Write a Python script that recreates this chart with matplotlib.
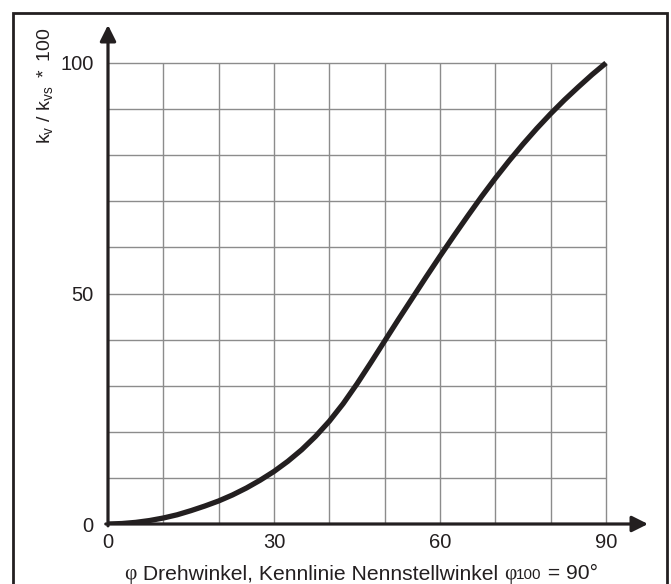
import matplotlib
matplotlib.use('Agg')
import matplotlib.pyplot as plt
from matplotlib.patches import Rectangle
from matplotlib.offsetbox import TextArea, HPacker, AnnotationBbox

plt.rcParams['font.family'] = ['Liberation Sans', 'DejaVu Sans']
plt.rcParams['mathtext.fontset'] = 'custom'
plt.rcParams['mathtext.rm'] = 'Liberation Sans'
plt.rcParams['mathtext.it'] = 'Liberation Sans'

# Kennlinie: angle (deg) -> kv/kvs * 100
angle = [0, 2.5, 5, 7.5, 10, 12.5, 15, 17.5, 20, 22.5, 25, 27.5, 30, 32.5, 35, 37.5,
         40, 42.5, 45, 47.5, 50, 52.5, 55, 57.5, 60, 62.5, 65, 67.5, 70, 72.5, 75,
         77.5, 80, 82.5, 85, 87.5, 90]
kv = [0, 0.1, 0.35, 0.75, 1.3, 2.0, 2.9, 3.9, 5.0, 6.3, 7.8, 9.5, 11.4, 13.6, 16.1, 19.0,
      22.3, 26.1, 30.4, 35.0, 39.7, 44.4, 49.0, 53.6, 58.1, 62.5, 66.8, 71.0, 75.0, 78.8, 82.4,
      85.8, 89.0, 92.0, 94.8, 97.5, 100]

x_grid = [10, 20, 30, 40, 50, 60, 70, 80, 90]
y_grid = [10, 20, 30, 40, 50, 60, 70, 80, 90, 100]
x_ticks = [0, 30, 60, 90]
y_ticks = [0, 50, 100]

ink = '#231f20'
W, H = 671, 584

fig = plt.figure(figsize=(W / 100, H / 100), dpi=100)
fig.patch.set_facecolor('white')

# outer frame (bottom edge lies below the picture)
fig.add_artist(Rectangle((13 / W, -10 / H), 654 / W, 581 / H,
                         transform=fig.transFigure, fill=False, lw=2.0, ec=ink))

ax = fig.add_axes([108 / W, 60 / H, 540 / W, 499 / H])
xmax = 90 * 540 / 498
ymax = 100 * 499 / 461
ax.set_xlim(0, xmax)
ax.set_ylim(0, ymax)
for s in ax.spines.values():
    s.set_visible(False)

ax.vlines(x_grid, 0, 100, color='#8c8c8c', lw=1.0, zorder=1)
ax.hlines(y_grid, 0, 90, color='#8c8c8c', lw=1.0, zorder=1)

# axes with arrows
arr = dict(arrowstyle='-|>', lw=2.3, color=ink, mutation_scale=24, shrinkA=0, shrinkB=0)
ax.annotate('', xy=(xmax, 0), xytext=(-0.4, 0), arrowprops=arr, annotation_clip=False, zorder=4)
ax.annotate('', xy=(0, ymax), xytext=(0, -0.4), arrowprops=arr, annotation_clip=False, zorder=4)

ax.plot(angle, kv, color=ink, lw=3.8, solid_capstyle='butt', zorder=5)

ax.set_xticks(x_ticks)
ax.set_xticklabels([str(t) for t in x_ticks])
ax.set_yticks(y_ticks)
ax.set_yticklabels([str(t) for t in y_ticks])
ax.tick_params(axis='both', length=0, labelsize=14.5, colors=ink)
ax.tick_params(axis='x', pad=6.5)
ax.tick_params(axis='y', pad=10.5)

# x label, pieced together so the phi and the small 100 look like the original
big = dict(fontsize=15.2, color=ink)
parts = [
    TextArea('φ', textprops=dict(family='Liberation Serif', **big)),
    TextArea(' Drehwinkel, Kennlinie Nennstellwinkel ', textprops=big),
    TextArea('φ', textprops=dict(family='Liberation Serif', **big)),
    TextArea('100', textprops=dict(fontsize=11, color=ink)),
    TextArea(' = 90°', textprops=big),
]
row = HPacker(children=parts, align='baseline', pad=0, sep=0)
ab = AnnotationBbox(row, (361, H - 574), xycoords='figure pixels',
                    box_alignment=(0.5, 0.5), frameon=False, annotation_clip=False)
fig.add_artist(ab)

fig.text(45 / W, 1 - 86 / H, r'$\mathregular{k_v\ /\ k_{vs}\ *\ 100}$',
         rotation=90, ha='center', va='center', fontsize=14, color=ink)

fig.savefig('out.png', dpi=100, facecolor='white')
